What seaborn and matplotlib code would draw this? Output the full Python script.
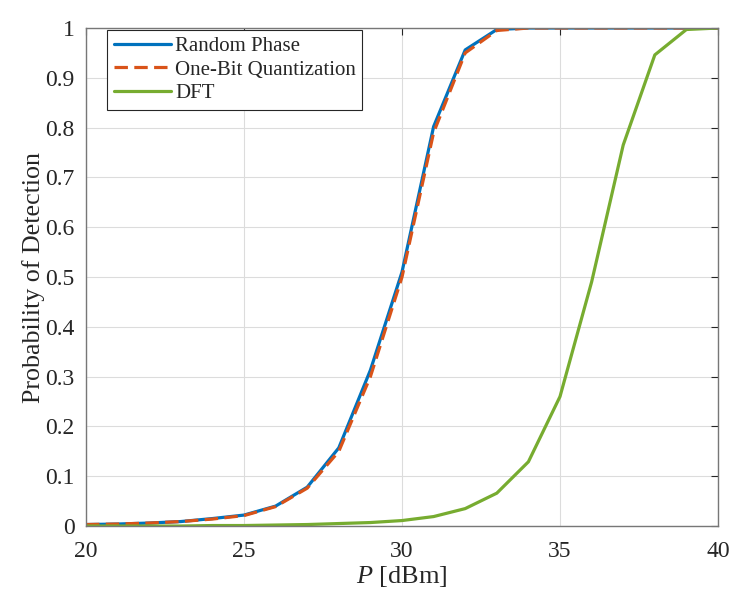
import numpy as np
import pandas as pd
import matplotlib
matplotlib.use("Agg")
import matplotlib.pyplot as plt
import seaborn as sns

# dados
potencia = list(range(20, 41))
random_phase = [0.003, 0.004, 0.006, 0.009, 0.015, 0.022, 0.040, 0.078, 0.157, 0.313,
                0.510, 0.802, 0.956, 0.997, 1.0, 1.0, 1.0, 1.0, 1.0, 1.0, 1.0]
one_bit = [0.003, 0.004, 0.006, 0.009, 0.014, 0.021, 0.039, 0.076, 0.150, 0.300,
           0.500, 0.790, 0.950, 0.995, 1.0, 1.0, 1.0, 1.0, 1.0, 1.0, 1.0]
dft = [0.0, 0.0, 0.0, 0.0, 0.001, 0.001, 0.002, 0.003, 0.005, 0.007,
       0.011, 0.019, 0.035, 0.066, 0.129, 0.260, 0.490, 0.765, 0.946, 0.997, 1.0]

sns.set_style("white")
plt.rcParams['font.family'] = ['Liberation Serif', 'DejaVu Serif']
plt.rcParams['mathtext.fontset'] = 'custom'
plt.rcParams['mathtext.rm'] = 'Liberation Serif'
plt.rcParams['mathtext.it'] = 'Liberation Serif:italic'

df = pd.DataFrame({'P': potencia, 'Random Phase': random_phase,
                   'One-Bit Quantization': one_bit, 'DFT': dft})

fig = plt.figure(figsize=(7.47, 5.96), dpi=100)
ax = fig.add_axes([0.1151, 0.1174, 0.8461, 0.8356])

sns.lineplot(data=df, x='P', y='Random Phase', ax=ax, color='#0072BD', lw=2.3,
             label='Random Phase')
sns.lineplot(data=df, x='P', y='One-Bit Quantization', ax=ax, color='#D95319', lw=2.3,
             linestyle=(0, (4.2, 2.0)), label='One-Bit Quantization')
sns.lineplot(data=df, x='P', y='DFT', ax=ax, color='#77AC30', lw=2.3, label='DFT')

ax.set_xlim(20, 40)
ax.set_ylim(0, 1)
ax.set_xticks([20, 25, 30, 35, 40])
ax.set_yticks(np.arange(0, 1.01, 0.1))
ax.set_yticklabels(['0', '0.1', '0.2', '0.3', '0.4', '0.5', '0.6', '0.7', '0.8', '0.9', '1'])
ax.grid(True, color='#dcdcdc', lw=0.8)
ax.tick_params(direction='in', labelsize=17, length=5, color='#262626',
               top=True, right=True)
ax.tick_params(axis='x', pad=11)
ax.tick_params(axis='y', pad=8)
for s in ax.spines.values():
    s.set_color('#777777')
    s.set_linewidth(1.0)
    s.set_visible(True)

ax.set_xlabel('$P$ [dBm]', fontsize=19, labelpad=1)
ax.set_ylabel('Probability of Detection', fontsize=18.7, labelpad=0)

leg = ax.legend(loc='upper left', bbox_to_anchor=(0.034, 0.996), fontsize=15,
                fancybox=False, framealpha=1, edgecolor='#262626', borderaxespad=0.0,
                handlelength=2.75, handletextpad=0.2, labelspacing=0.2, borderpad=0.3)
leg.get_frame().set_linewidth(0.8)

fig.savefig('out.png', dpi=100)
